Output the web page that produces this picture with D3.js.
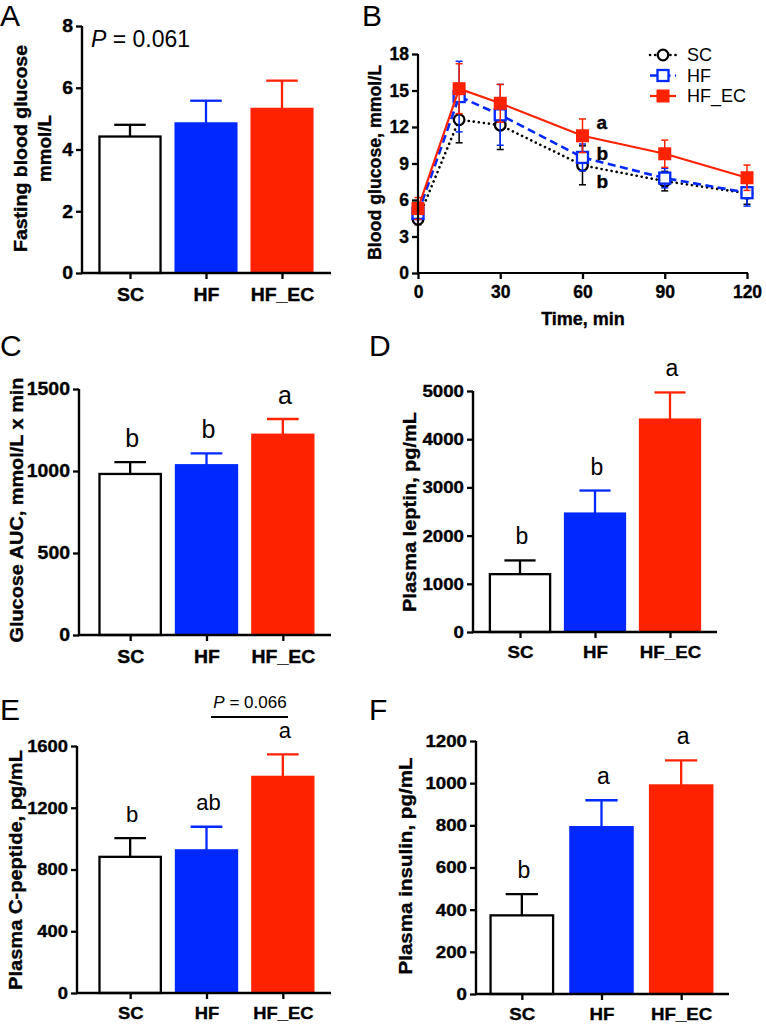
<!DOCTYPE html>
<html><head><meta charset="utf-8">
<script src="https://cdn.jsdelivr.net/npm/d3@7"></script>
<style>body{margin:0;background:#fff}svg{display:block}text{font-family:"Liberation Sans",Arial,sans-serif}</style>
</head><body><svg id="c" width="766" height="1028"></svg>
<script>
// ---------- DATA ----------
const groups = ["SC", "HF", "HF_EC"];
const groupColors = ["#ffffff", "#0028ff", "#ff2200"];

const fastingMean = [4.42, 4.85, 5.32];
const fastingSem = [0.38, 0.73, 0.91];

const aucMean = [982, 1036, 1222];
const aucSem = [72, 72, 95];
const aucLetters = ["b", "b", "a"];

const leptinMean = [1200, 2460, 4410];
const leptinSem = [285, 475, 560];
const leptinLetters = ["b", "b", "a"];

const cpepMean = [882, 925, 1401];
const cpepSem = [121, 152, 145];
const cpepLetters = ["b", "ab", "a"];

const insulinMean = [373, 792, 990];
const insulinSem = [101, 127, 118];
const insulinLetters = ["b", "a", "a"];

const ogttTimes = [0, 15, 30, 60, 90, 120];
const scMean = [4.42, 12.6, 12.15, 8.85, 7.55, 6.55];
const scSem = [0.45, 1.9, 2.0, 1.6, 0.8, 0.9];
const hfMean = [4.9, 14.5, 13.0, 9.5, 7.8, 6.6];
const hfSem = [0.5, 2.9, 2.5, 1.1, 0.8, 1.1];
const ecMean = [5.3, 15.15, 13.95, 11.28, 9.8, 7.83];
const ecSem = [0.9, 2.05, 1.55, 1.38, 1.12, 1.04];
const ogttLetterText = ["a", "b", "b"];
const ogttLetterTime = 60;

const fastingTicks = [0, 2, 4, 6, 8];
const aucTicks = [0, 500, 1000, 1500];
const leptinTicks = [0, 1000, 2000, 3000, 4000, 5000];
const cpepTicks = [0, 400, 800, 1200, 1600];
const insulinTicks = [0, 200, 400, 600, 800, 1000, 1200];
const ogttYTicks = [0, 3, 6, 9, 12, 15, 18];
const ogttXTicks = [0, 30, 60, 90, 120];

// ---------- DRAW ----------
const FONT = '"Liberation Sans",Arial,sans-serif';
const svg = d3.select("#c");
svg.append("rect").attr("width", 766).attr("height", 1028).attr("fill", "#fff");

function stretch(sel, k) {
  sel.each(function () {
    const l = this.getComputedTextLength();
    d3.select(this).attr("textLength", l * k).attr("lengthAdjust", "spacingAndGlyphs");
  });
}
function heavy(sel) { sel.attr("stroke", "#000").attr("stroke-width", 0.35); }

function panelLabel(txt, x, y) {
  svg.append("text").attr("x", x).attr("y", y).attr("font-size", 30).text(txt);
}

function title(g, txt, cx, cy, fs, len) {
  const t = g.append("text").attr("transform", `translate(${cx},${cy}) rotate(-90)`)
    .attr("text-anchor", "middle").attr("dy", "0.35em").attr("font-weight", "bold").attr("font-size", fs).text(txt);
  if (len) t.attr("textLength", len).attr("lengthAdjust", "spacingAndGlyphs");
  heavy(t);
  return t;
}

function styleAxis(a, fs, k) {
  a.selectAll(".tick line").attr("stroke-width", 2.3);
  const t = a.selectAll(".tick text").attr("font-size", fs).attr("font-weight", "bold").attr("font-family", FONT).attr("fill", "#000");
  stretch(t, k);
  heavy(t);
}

function barPanel(o) {
  const g = svg.append("g");
  const y = d3.scaleLinear().domain([0, o.ymax]).range([o.y0, o.yTop]);
  const x = d3.scaleBand().domain(groups).range(o.band).paddingInner(o.pad).paddingOuter(o.pad / 2);
  groups.forEach((k, i) => {
    const bx = x(k), bw = x.bandwidth();
    const cx = bx + bw / 2;
    const col = i === 0 ? "#000" : groupColors[i];
    const top = y(o.means[i]), et = y(o.means[i] + o.sems[i]);
    g.append("line").attr("x1", cx).attr("x2", cx).attr("y1", top).attr("y2", et).attr("stroke", col).attr("stroke-width", 2.3);
    g.append("line").attr("x1", cx - bw / 4).attr("x2", cx + bw / 4).attr("y1", et).attr("y2", et).attr("stroke", col).attr("stroke-width", 2.3);
    if (i === 0) {
      g.append("rect").attr("x", bx + 1).attr("y", top).attr("width", bw - 2).attr("height", o.y0 - top)
        .attr("fill", "#fff").attr("stroke", "#000").attr("stroke-width", 2.3);
    } else {
      g.append("rect").attr("x", bx).attr("y", top - 1).attr("width", bw).attr("height", o.y0 - top + 1)
        .attr("fill", groupColors[i]);
    }
    if (o.letters) {
      g.append("text").attr("x", cx + 2).attr("y", et - 24).attr("dy", "0.35em").attr("text-anchor", "middle")
        .attr("font-size", o.letterFont).text(o.letters[i]);
    }
  });
  const yAxis = d3.axisLeft(y).tickValues(o.ticks).tickFormat(d3.format("d")).tickSize(6).tickSizeOuter(0).tickPadding(3);
  const ya = g.append("g").attr("transform", `translate(${o.ax},0)`).call(yAxis);
  ya.select(".domain").attr("stroke-width", 2.4).attr("d", `M0,${o.yTop}V${o.y0 + 1}`);
  styleAxis(ya, o.tickFont, o.k);
  const xs = d3.scalePoint().domain(groups).range([x(groups[0]) + x.bandwidth() / 2, x(groups[2]) + x.bandwidth() / 2]);
  const xAxis = d3.axisBottom(xs).tickSize(6).tickSizeOuter(0).tickPadding(o.catPad);
  const xa = g.append("g").attr("transform", `translate(0,${o.y0})`).call(xAxis);
  xa.select(".domain").attr("stroke-width", 2.4).attr("d", `M${o.ax - 1},0H${o.axEnd}`);
  styleAxis(xa, o.catFont, o.k);
  return g;
}

// Panel A
panelLabel("A", 0, 26);
const gA = barPanel({means: fastingMean, sems: fastingSem, ax: 82, axEnd: 331, y0: 273, yTop: 26, ymax: 8,
  ticks: fastingTicks, band: [92, 320], pad: 0.17, tickFont: 18, catFont: 18, catPad: 9, k: 1.08});
title(gA, "Fasting blood glucose", 21, 148.5, 18, 207);
title(gA, "mmol/L", 45, 148.5, 18, 67);
const pA = gA.append("text").attr("x", 91).attr("y", 47).attr("font-size", 23);
pA.append("tspan").attr("font-style", "italic").text("P");
pA.append("tspan").text(" = 0.061");

// Panel B
panelLabel("B", 362, 26);
(function () {
  const g = svg.append("g");
  const x = d3.scaleLinear().domain([0, 120]).range([418, 747]);
  const y = d3.scaleLinear().domain([0, 18]).range([273, 54]);
  const series = [
    {name: "SC", m: scMean, s: scSem, col: "#000", dash: "0.1,5", lw: 2.6, cap: "round", marker: "circle"},
    {name: "HF", m: hfMean, s: hfSem, col: "#0028ff", dash: "8,4.5", lw: 2.6, cap: "butt", marker: "open"},
    {name: "HF_EC", m: ecMean, s: ecSem, col: "#ff2200", dash: null, lw: 2.2, cap: "butt", marker: "filled"}
  ];
  const line = d3.line().x(d => x(d[0])).y(d => y(d[1]));
  function drawMarker(gg, s, px, py) {
    if (s.marker === "circle") gg.append("circle").attr("cx", px).attr("cy", py).attr("r", 5.3).attr("fill", "#fff").attr("stroke", s.col).attr("stroke-width", 2.3);
    else if (s.marker === "open") gg.append("rect").attr("x", px - 5.5).attr("y", py - 5.5).attr("width", 11).attr("height", 11).attr("fill", "#fff").attr("stroke", s.col).attr("stroke-width", 2.3);
    else gg.append("rect").attr("x", px - 6.5).attr("y", py - 6.5).attr("width", 13).attr("height", 13).attr("fill", s.col);
  }
  series.forEach(s => {
    const pts = ogttTimes.map((t, i) => [t, s.m[i]]);
    ogttTimes.forEach((t, i) => {
      const px = x(t);
      g.append("line").attr("x1", px).attr("x2", px).attr("y1", y(s.m[i] - s.s[i])).attr("y2", y(s.m[i] + s.s[i])).attr("stroke", s.col).attr("stroke-width", 1.5);
      [s.m[i] - s.s[i], s.m[i] + s.s[i]].forEach(v => g.append("line").attr("x1", px - 3.5).attr("x2", px + 3.5).attr("y1", y(v)).attr("y2", y(v)).attr("stroke", s.col).attr("stroke-width", 1.5));
    });
    g.append("path").attr("d", line(pts)).attr("fill", "none").attr("stroke", s.col).attr("stroke-width", s.lw)
      .attr("stroke-dasharray", s.dash).attr("stroke-linecap", s.cap);
    pts.forEach(p => drawMarker(g, s, x(p[0]), y(p[1])));
  });
  const li = ogttTimes.indexOf(ogttLetterTime);
  const anchors = [ecMean[li], hfMean[li], scMean[li]];
  const offs = [-13, -4, 16];
  anchors.forEach((v, k) => {
    const t = g.append("text").attr("x", x(ogttLetterTime) + 14).attr("y", y(v) + offs[k]).attr("dy", "0.35em")
      .attr("font-size", 19).attr("font-weight", "bold").text(ogttLetterText[k]);
    heavy(t);
  });
  const ya = g.append("g").attr("transform", "translate(418,0)").call(d3.axisLeft(y).tickValues(ogttYTicks).tickSize(6).tickSizeOuter(0).tickPadding(3));
  ya.select(".domain").attr("stroke-width", 2.2).attr("d", "M0,54V274");
  styleAxis(ya, 17.5, 1.0);
  const xa = g.append("g").attr("transform", "translate(0,273)").call(d3.axisBottom(x).tickValues(ogttXTicks).tickSize(6).tickSizeOuter(0).tickPadding(7));
  xa.select(".domain").attr("stroke-width", 2.2).attr("d", "M417,0H748");
  styleAxis(xa, 17.5, 1.0);
  heavy(g.append("text").attr("x", 583).attr("y", 325).attr("text-anchor", "middle").attr("font-size", 18).attr("font-weight", "bold").text("Time, min"));
  title(g, "Blood glucose, mmol/L", 375, 162.5, 17.5, 195);
  series.forEach((s, i) => {
    const ly = 55 + i * 20.5;
    g.append("line").attr("x1", 650).attr("x2", 676).attr("y1", ly).attr("y2", ly).attr("stroke", s.col).attr("stroke-width", s.lw)
      .attr("stroke-dasharray", s.dash).attr("stroke-linecap", s.cap);
    drawMarker(g, s, 663, ly);
    g.append("text").attr("x", 687).attr("y", ly).attr("dy", "0.35em").attr("font-size", 18).text(s.name);
  });
})();

// Panel C
panelLabel("C", 0, 356);
const gC = barPanel({means: aucMean, sems: aucSem, letters: aucLetters, letterFont: 25, ax: 79, axEnd: 331, y0: 635, yTop: 389, ymax: 1500,
  ticks: aucTicks, band: [92, 321], pad: 0.17, tickFont: 18, catFont: 18, catPad: 9, k: 1.08});
title(gC, "Glucose AUC, mmol/L x min", 17, 510, 18, 265);

// Panel D
panelLabel("D", 369, 356);
const gD = barPanel({means: leptinMean, sems: leptinSem, letters: leptinLetters, letterFont: 23, ax: 473, axEnd: 717, y0: 632, yTop: 391, ymax: 5000,
  ticks: leptinTicks, band: [482.5, 707.5], pad: 0.17, tickFont: 17, catFont: 17, catPad: 8, k: 1.1});
title(gD, "Plasma leptin, pg/mL", 410, 512, 18, 200);

// Panel E
panelLabel("E", 0, 720);
const gE = barPanel({means: cpepMean, sems: cpepSem, letters: cpepLetters, letterFont: 22, ax: 77, axEnd: 331, y0: 993, yTop: 746, ymax: 1600,
  ticks: cpepTicks, band: [92, 321], pad: 0.17, tickFont: 17, catFont: 17, catPad: 8, k: 1.08});
title(gE, "Plasma C-peptide, pg/mL", 16, 870, 18, 240);
gE.append("line").attr("x1", 211).attr("x2", 288).attr("y1", 717).attr("y2", 717).attr("stroke", "#000").attr("stroke-width", 2);
const pE = gE.append("text").attr("x", 250).attr("y", 708).attr("text-anchor", "middle").attr("font-size", 17);
pE.append("tspan").attr("font-style", "italic").text("P");
pE.append("tspan").text(" = 0.066");

// Panel F
panelLabel("F", 369, 720);
const gF = barPanel({means: insulinMean, sems: insulinSem, letters: insulinLetters, letterFont: 23, ax: 476, axEnd: 729, y0: 994, yTop: 741, ymax: 1200,
  ticks: insulinTicks, band: [482, 721], pad: 0.19, tickFont: 17, catFont: 17, catPad: 8, k: 1.1});
title(gF, "Plasma insulin, pg/mL", 406, 866, 18, 217);
</script></body></html>
